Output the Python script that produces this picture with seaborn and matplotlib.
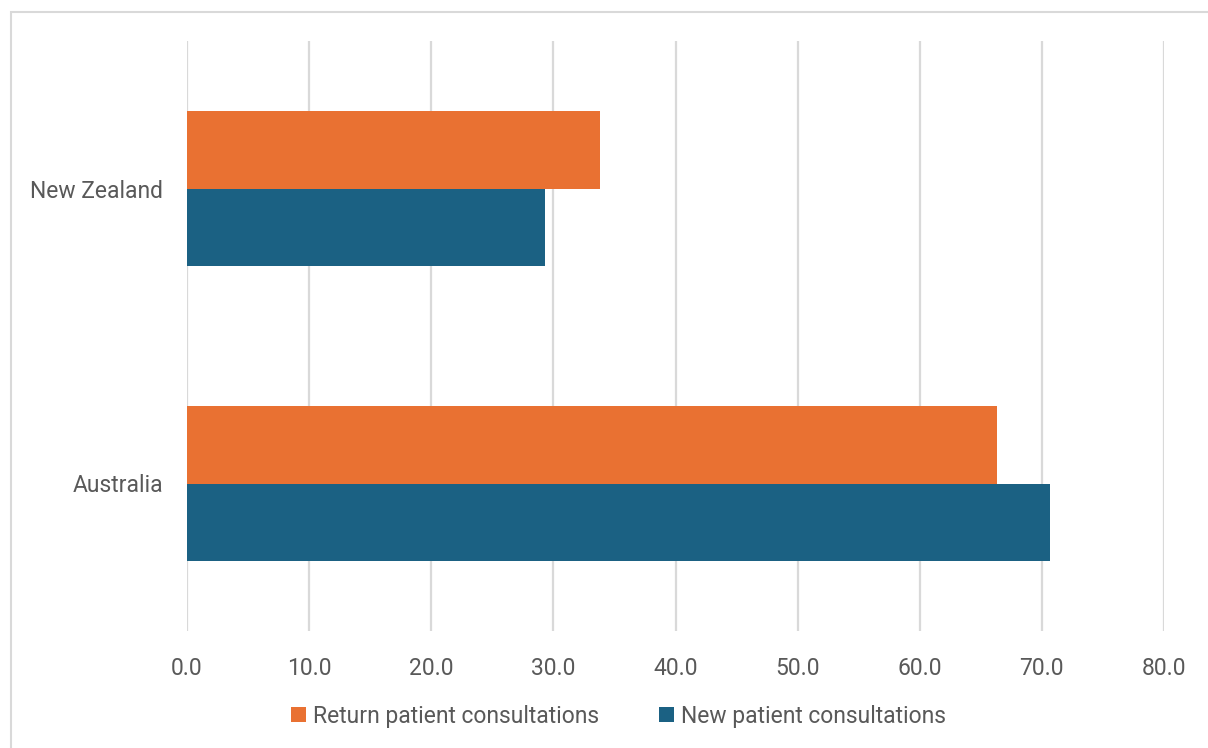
import matplotlib
matplotlib.use("Agg")
import matplotlib.pyplot as plt
import seaborn as sns
import pandas as pd
from matplotlib.patches import Rectangle

regions = ["New Zealand", "Australia"]
series = ["Return patient consultations", "New patient consultations"]
return_vals = [33.8, 66.3]
new_vals = [29.3, 70.7]
x_ticks = [0, 10, 20, 30, 40, 50, 60, 70, 80]

df = pd.DataFrame({
    "Region": regions * 2,
    "Series": [series[0]] * 2 + [series[1]] * 2,
    "Value": return_vals + new_vals,
})

sns.set_style("white")
plt.rcParams["font.family"] = ["Roboto", "DejaVu Sans"]

fig = plt.figure(figsize=(12.08, 7.48), dpi=100)
ax = fig.add_axes([187 / 1208, 1 - 631 / 748, (1164 - 187) / 1208, (631 - 41) / 748])

colors = {series[0]: "#E97132", series[1]: "#1B6183"}
sns.barplot(data=df, y="Region", x="Value", hue="Series", order=regions,
            hue_order=series, palette=colors, orient="h", width=0.525,
            linewidth=0, saturation=1, ax=ax, legend=True, errorbar=None)

ax.set_xlim(0, 80)
ax.set_ylim(1.5, -0.5)
ax.set_xticks(x_ticks)
ax.set_xticklabels([f"{v:.1f}" for v in x_ticks])
ax.grid(axis="x", color="#d9d9d9", linewidth=1.6)
ax.grid(axis="y", visible=False)
ax.set_axisbelow(True)
for s in ax.spines.values():
    s.set_visible(False)
ax.set_xlabel("")
ax.set_ylabel("")
ax.tick_params(axis="both", length=0, labelsize=16.5, labelcolor="#595959")
ax.tick_params(axis="x", pad=19)
ax.tick_params(axis="y", pad=17)

handles, labels = ax.get_legend_handles_labels()
ax.get_legend().remove()
fig.legend(handles, labels, loc="center", bbox_to_anchor=(0.512, 1 - 716 / 748),
           ncol=2, frameon=False, fontsize=16.5, labelcolor="#595959",
           handlelength=0.65, handleheight=0.65, handletextpad=0.3,
           columnspacing=2.6)

fig.patches.append(Rectangle((11 / 1208, -0.05), 1.1, 1.05 - 12 / 748,
                             transform=fig.transFigure, fill=False,
                             edgecolor="#d9d9d9", linewidth=1.5))

fig.savefig("out.png", dpi=100, facecolor="white")
